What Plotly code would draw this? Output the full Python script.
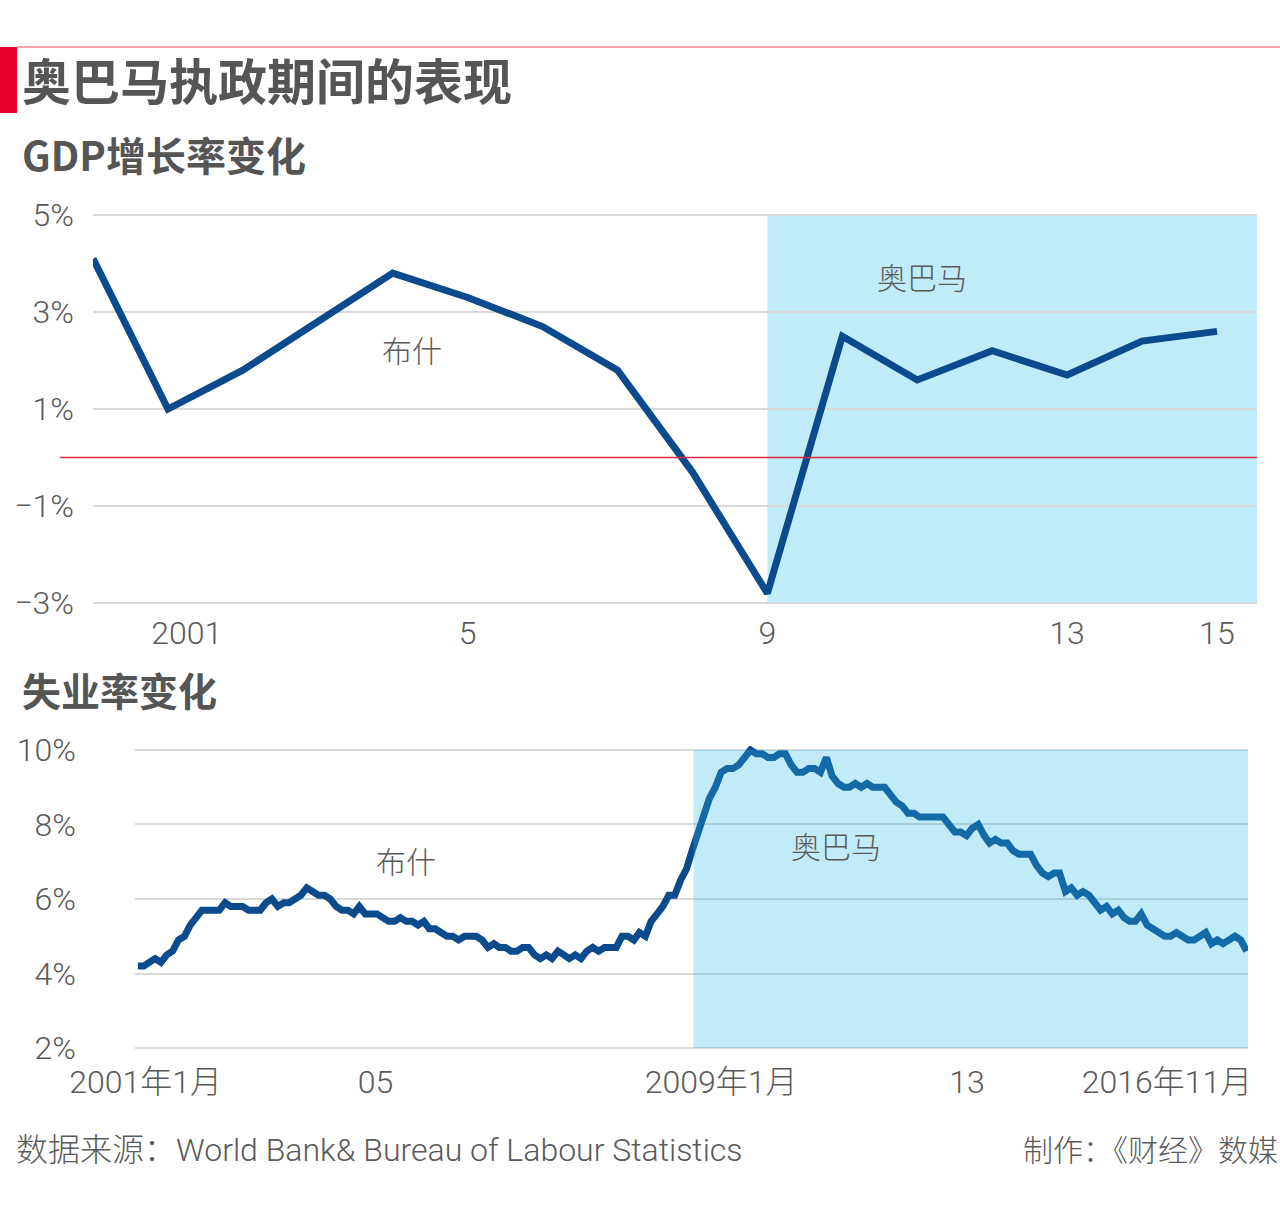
import plotly.graph_objects as go
import pandas as pd

# ---------------- data ----------------
gdp_years = list(range(2000, 2016))
gdp_growth = [4.1, 1.0, 1.8, 2.8, 3.8, 3.3, 2.7, 1.8, -0.3, -2.8, 2.5, 1.6, 2.2, 1.7, 2.4, 2.6]
gdp_ytick_vals = [5, 3, 1, -1, -3]
gdp_ytick_text = ["5%", "3%", "1%", "−1%", "−3%"]
gdp_xtick_vals = [2001.25, 2005, 2009, 2013, 2015]
gdp_xtick_text = ["2001", "5", "9", "13", "15"]

unemp = [
    4.2, 4.2, 4.3, 4.4, 4.3, 4.5, 4.6, 4.9, 5.0, 5.3, 5.5, 5.7,   # 2001
    5.7, 5.7, 5.7, 5.9, 5.8, 5.8, 5.8, 5.7, 5.7, 5.7, 5.9, 6.0,   # 2002
    5.8, 5.9, 5.9, 6.0, 6.1, 6.3, 6.2, 6.1, 6.1, 6.0, 5.8, 5.7,   # 2003
    5.7, 5.6, 5.8, 5.6, 5.6, 5.6, 5.5, 5.4, 5.4, 5.5, 5.4, 5.4,   # 2004
    5.3, 5.4, 5.2, 5.2, 5.1, 5.0, 5.0, 4.9, 5.0, 5.0, 5.0, 4.9,   # 2005
    4.7, 4.8, 4.7, 4.7, 4.6, 4.6, 4.7, 4.7, 4.5, 4.4, 4.5, 4.4,   # 2006
    4.6, 4.5, 4.4, 4.5, 4.4, 4.6, 4.7, 4.6, 4.7, 4.7, 4.7, 5.0,   # 2007
    5.0, 4.9, 5.1, 5.0, 5.4, 5.6, 5.8, 6.1, 6.1, 6.5, 6.8, 7.3,   # 2008
    7.8, 8.3, 8.7, 9.0, 9.4, 9.5, 9.5, 9.6, 9.8, 10.0, 9.9, 9.9,  # 2009
    9.8, 9.8, 9.9, 9.9, 9.6, 9.4, 9.4, 9.5, 9.5, 9.4, 9.8, 9.3,   # 2010
    9.1, 9.0, 9.0, 9.1, 9.0, 9.1, 9.0, 9.0, 9.0, 8.8, 8.6, 8.5,   # 2011
    8.3, 8.3, 8.2, 8.2, 8.2, 8.2, 8.2, 8.0, 7.8, 7.8, 7.7, 7.9,   # 2012
    8.0, 7.7, 7.5, 7.6, 7.5, 7.5, 7.3, 7.2, 7.2, 7.2, 6.9, 6.7,   # 2013
    6.6, 6.7, 6.7, 6.2, 6.3, 6.1, 6.2, 6.1, 5.9, 5.7, 5.8, 5.6,   # 2014
    5.7, 5.5, 5.4, 5.4, 5.6, 5.3, 5.2, 5.1, 5.0, 5.0, 5.1, 5.0,   # 2015
    4.9, 4.9, 5.0, 5.1, 4.8, 4.9, 4.8, 4.9, 5.0, 4.9, 4.6,        # 2016 (to Nov)
]
unemp_months = pd.date_range("2001-01-01", periods=len(unemp), freq="MS")
unemp_ytick_vals = [10, 8, 6, 4, 2]
unemp_ytick_text = ["10%", "8%", "6%", "4%", "2%"]
unemp_xtick_vals = ["2001-02-11", "2004-05-24", "2009-05-01", "2012-11-04", "2015-09-12"]
unemp_xtick_text = ["2001年1月", "05", "2009年1月", "13", "2016年11月"]

obama_start_year = 2009
obama_start_month = "2008-12-08"

# ---------------- style ----------------
W, H = 1280, 1228
LINE = "#0b4a8c"
SHADE = "#c0ebf9"
GRID = "#d9d9d9"
TXT = "#5a5a5a"
RED = "#e3002b"
FONT = "Roboto, 'Noto Sans CJK SC', sans-serif"
BOLD = "'Noto Sans CJK SC', 'Noto Sans', sans-serif"


def px(x):
    return x / W


def py(y):
    return 1 - y / H


fig = go.Figure()

fig.add_trace(go.Scatter(
    x=gdp_years, y=gdp_growth, mode="lines",
    line=dict(color=LINE, width=7), xaxis="x", yaxis="y",
    hoverinfo="skip", showlegend=False,
))
fig.add_trace(go.Scatter(
    x=unemp_months, y=unemp, mode="lines",
    line=dict(color=LINE, width=7), xaxis="x2", yaxis="y2",
    hoverinfo="skip", showlegend=False,
))

tickfont = dict(family=FONT, size=32, color=TXT, weight=300)

fig.update_layout(
    width=W, height=H,
    margin=dict(l=0, r=0, t=0, b=0, autoexpand=False),
    paper_bgcolor="white", plot_bgcolor="white",
    font=dict(family=FONT, color=TXT),
    xaxis=dict(
        domain=[px(93), px(1257)], range=[2000, 2015.534],
        tickvals=gdp_xtick_vals, ticktext=gdp_xtick_text,
        showgrid=False, zeroline=False, showline=False,
        ticks="", tickfont=tickfont, ticklabelstandoff=4,
        anchor="y", automargin=False,
    ),
    yaxis=dict(
        domain=[py(607), py(211)], range=[-3.082, 5.082],
        tickvals=gdp_ytick_vals, ticktext=gdp_ytick_text,
        showgrid=True, gridcolor=GRID, gridwidth=2,
        zeroline=False, showline=False, ticks="",
        tickfont=tickfont, ticklabelstandoff=18,
        anchor="x", automargin=False,
    ),
    xaxis2=dict(
        domain=[px(135), px(1248)], range=["2000-12-17", "2016-11-08"],
        type="date",
        tickvals=unemp_xtick_vals, ticktext=unemp_xtick_text,
        showgrid=False, zeroline=False, showline=False,
        ticks="", tickfont=tickfont, ticklabelstandoff=8,
        anchor="y2", automargin=False,
    ),
    yaxis2=dict(
        domain=[py(1052), py(746)], range=[1.893, 10.107],
        tickvals=unemp_ytick_vals, ticktext=unemp_ytick_text,
        showgrid=True, gridcolor=GRID, gridwidth=2,
        zeroline=False, showline=False, ticks="",
        tickfont=tickfont, ticklabelstandoff=58,
        anchor="x2", automargin=False,
    ),
)

shapes = [
    # top red rule + red bar
    dict(type="line", xref="paper", yref="paper", x0=px(17), x1=1, y0=py(47), y1=py(47),
         line=dict(color="#e04a60", width=1.2)),
    dict(type="rect", xref="paper", yref="paper", x0=0, x1=px(17), y0=py(113), y1=py(47),
         fillcolor=RED, line=dict(width=0)),
    # Obama shading (GDP)
    dict(type="rect", xref="x", yref="y", x0=obama_start_year, x1=2015.534,
         y0=-3, y1=5, fillcolor=SHADE, line=dict(width=0), layer="below"),
    # zero line
    dict(type="line", xref="paper", yref="y", x0=px(60), x1=px(1257), y0=0, y1=0,
         line=dict(color="#d8283f", width=1.5)),
    # Obama shading (unemployment), translucent over line
    dict(type="rect", xref="x2", yref="y2", x0=obama_start_month, x1="2016-11-08",
         y0=2, y1=10, fillcolor="rgba(40,185,235,0.29)", line=dict(width=0),
         layer="above"),
]
fig.update_layout(shapes=shapes)

ann_font = dict(family=FONT, size=30, color=TXT, weight=300)
annotations = [
    dict(text="奥巴马执政期间的表现", xref="paper", yref="paper", x=px(20), y=py(78),
         xanchor="left", yanchor="middle", showarrow=False,
         font=dict(family=BOLD, size=49, color="#555555", weight="bold")),
    dict(text="GDP增长率变化", xref="paper", yref="paper", x=px(20), y=py(154),
         xanchor="left", yanchor="middle", showarrow=False,
         font=dict(family=BOLD, size=40, color="#555555", weight="bold")),
    dict(text="失业率变化", xref="paper", yref="paper", x=px(20), y=py(689),
         xanchor="left", yanchor="middle", showarrow=False,
         font=dict(family=BOLD, size=39, color="#555555", weight="bold")),
    dict(text="布什", xref="x", yref="y", x=2004.26, y=2.19, showarrow=False, font=ann_font),
    dict(text="奥巴马", xref="x", yref="y", x=2011.06, y=3.69, showarrow=False, font=ann_font),
    dict(text="布什", xref="x2", yref="y2", x="2004-11-01", y=6.99, showarrow=False, font=ann_font),
    dict(text="奥巴马", xref="x2", yref="y2", x="2010-12-20", y=7.37, showarrow=False, font=ann_font),
    dict(text="数据来源：World Bank& Bureau of Labour Statistics", xref="paper", yref="paper",
         x=px(14), y=py(1150), xanchor="left", yanchor="middle", showarrow=False,
         font=dict(family=FONT, size=32, color=TXT, weight=300)),
    dict(text="制作：《财经》数媒", xref="paper", yref="paper",
         x=1, y=py(1150), xanchor="right", yanchor="middle", showarrow=False,
         font=dict(family=FONT, size=30, color=TXT, weight=300)),
]
fig.update_layout(annotations=annotations)

fig.write_html("out.html")
